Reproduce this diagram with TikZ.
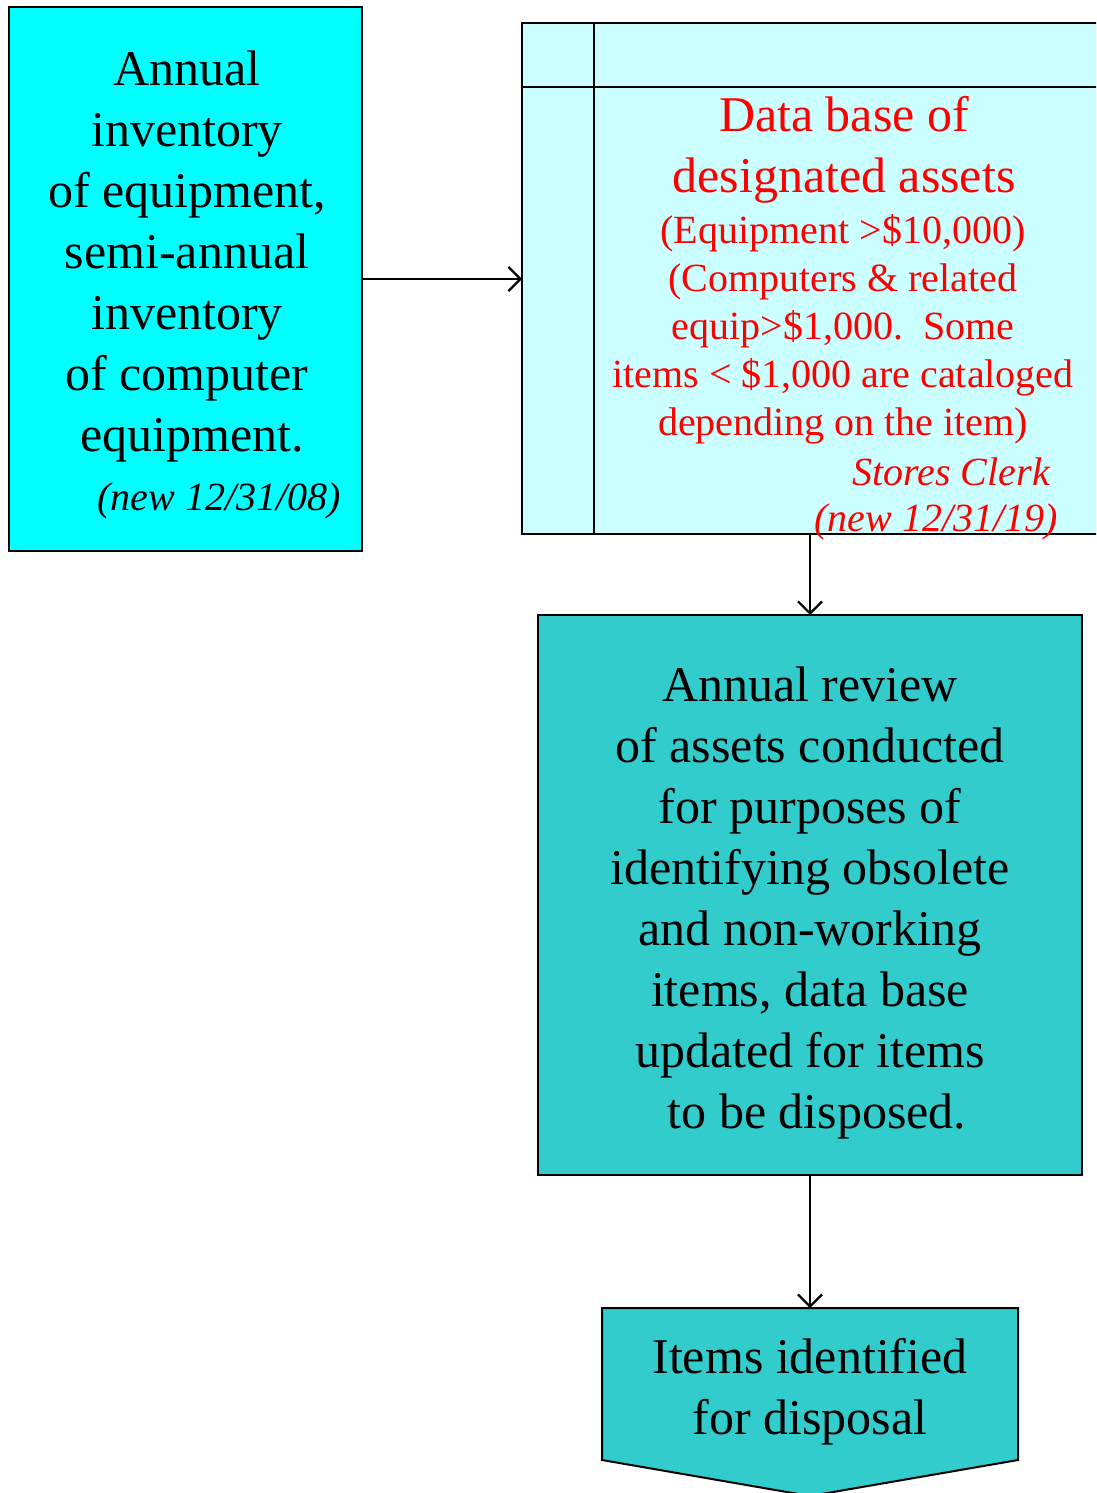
\documentclass[tikz,border=0pt]{standalone}
\usepackage{fontspec}
\setmainfont{Liberation Serif}
\usetikzlibrary{arrows.meta}
\definecolor{cyanA}{HTML}{00FFFF}
\definecolor{cyanL}{HTML}{CCFFFF}
\definecolor{tealB}{HTML}{33CCCC}
\definecolor{redT}{HTML}{FF0000}
\begin{document}
\begin{tikzpicture}[x=1pt,y=-1pt,
  box/.style={draw=black,line width=2pt,inner sep=0pt,outer sep=0pt},
  big/.style={font=\fontsize{50}{61}\selectfont,align=center,inner sep=0pt},
  small/.style={font=\fontsize{40}{48}\selectfont,align=center,inner sep=0pt},
  note/.style={font=\fontsize{40}{48}\selectfont\itshape,inner sep=0pt},
  conn/.style={line width=2.2pt,-{Straight Barb[length=12pt,width=24pt]}}]
\useasboundingbox (0,0) rectangle (1096,1493);
\clip (0,0) rectangle (1096,1493);
% left box
\node[box,fill=cyanA,minimum width=353pt,minimum height=544pt,anchor=north west] (inv) at (9,7) {};
\node[big] (invtext) at (187,256) {Annual\\inventory\\of equipment,\\semi-annual\\inventory\\of computer\\\hspace*{10pt}equipment.};
\node[note,anchor=east] (invnew) at (341,501) {(new 12/31/08)};
% data base box
\node[box,fill=cyanL,minimum width=600pt,minimum height=511pt,anchor=north west] (db) at (522,23) {};
\draw[line width=2pt] (594,23) -- (594,534);
\draw[line width=2pt] (522,87) -- (1122,87);
\node[big,text=redT] (dbtitle) at (844,149.5) {Data base of\\designated assets};
\node[small,text=redT] (dbdetail) at (843,329) {(Equipment >\$10,000)\\(Computers \& related\\equip>\$1,000.\ \ Some\\items < \$1,000 are cataloged\\depending on the item)};
\node[note,text=redT,anchor=east] (clerk) at (1050,472) {Stores Clerk};
\node[note,text=redT,anchor=east] (dbnew) at (1058,522) {(new 12/31/19)};
% review box
\node[box,fill=tealB,minimum width=544pt,minimum height=560pt,anchor=north west] (rev) at (538,615) {};
\node[big] (revtext) at (810,903) {Annual review\\of assets conducted\\for purposes of\hspace*{10pt}\\identifying obsolete\\and non-working\\items, data base\\updated for items\\\hspace*{14pt}to be disposed.};
% disposal shape
\draw[line width=2pt,fill=tealB] (602,1308) -- (1018,1308) -- (1018,1460) -- (810,1496) -- (602,1460) -- cycle;
\node[inner sep=0pt,outer sep=0pt,minimum width=416pt,minimum height=152pt,anchor=north west] (disp) at (602,1308) {};
\node[big] (disptext) at (810,1391.5) {Items identified\\for disposal};
% connectors
\draw[conn] (inv.east) -- (inv.east -| db.west);
\draw[conn] (rev.north |- db.south) -- (rev.north);
\draw[conn] (rev.south) -- (disp.north);
\end{tikzpicture}
\end{document}
